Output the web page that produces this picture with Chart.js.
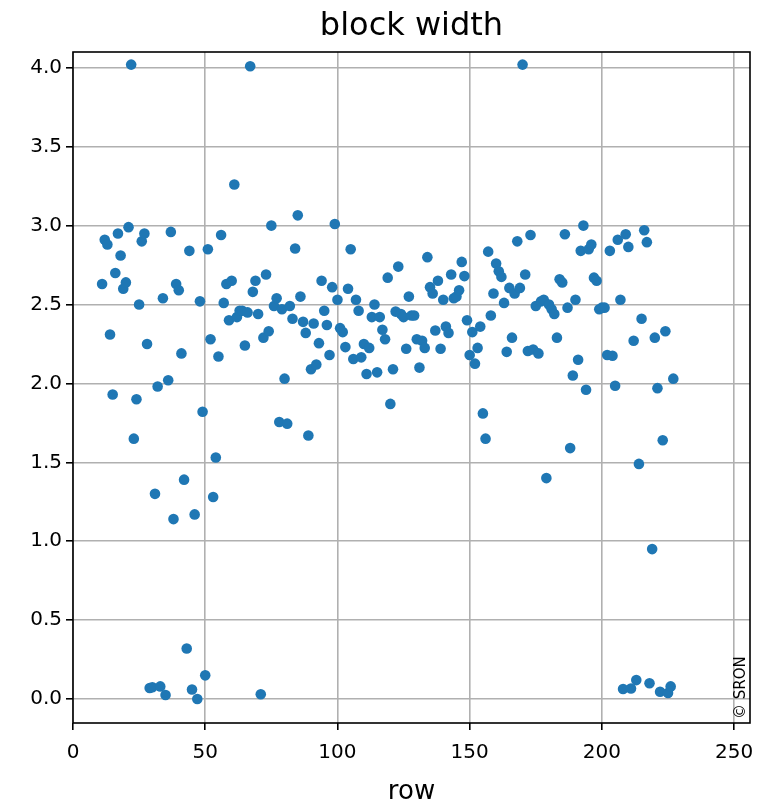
<!DOCTYPE html>
<html>
<head>
<meta charset="utf-8">
<script src="https://cdn.jsdelivr.net/npm/chart.js@4.4.1/dist/chart.umd.min.js"></script>
<style>
  body { margin: 0; background: #fff; }
  #wrap { width: 762px; height: 805px; }
</style>
</head>
<body>
<div id="wrap"><canvas id="grafico" width="762" height="805"></canvas></div>
<script>
// Dados: uma largura de bloco por linha (row 11..227)
const rows = [
  11, 12, 13, 14, 15, 16, 17, 18, 19, 20, 21, 22, 23, 24, 25, 26, 27, 28, 29, 30,
  31, 32, 33, 34, 35, 36, 37, 38, 39, 40, 41, 42, 43, 44, 45, 46, 47, 48, 49, 50,
  51, 52, 53, 54, 55, 56, 57, 58, 59, 60, 61, 62, 63, 64, 65, 66, 67, 68, 69, 70,
  71, 72, 73, 74, 75, 76, 77, 78, 79, 80, 81, 82, 83, 84, 85, 86, 87, 88, 89, 90,
  91, 92, 93, 94, 95, 96, 97, 98, 99, 100, 101, 102, 103, 104, 105, 106, 107, 108, 109, 110,
  111, 112, 113, 114, 115, 116, 117, 118, 119, 120, 121, 122, 123, 124, 125, 126, 127, 128, 129, 130,
  131, 132, 133, 134, 135, 136, 137, 138, 139, 140, 141, 142, 143, 144, 145, 146, 147, 148, 149, 150,
  151, 152, 153, 154, 155, 156, 157, 158, 159, 160, 161, 162, 163, 164, 165, 166, 167, 168, 169, 170,
  171, 172, 173, 174, 175, 176, 177, 178, 179, 180, 181, 182, 183, 184, 185, 186, 187, 188, 189, 190,
  191, 192, 193, 194, 195, 196, 197, 198, 199, 200, 201, 202, 203, 204, 205, 206, 207, 208, 209, 210,
  211, 212, 213, 214, 215, 216, 217, 218, 219, 220, 221, 222, 223, 224, 225, 226, 227
];
const blockWidth = [
  2.63, 2.91, 2.88, 2.31, 1.93, 2.70, 2.95, 2.81, 2.60, 2.64, 2.99, 4.02, 1.65, 1.90, 2.50, 2.90, 2.95, 2.25, 0.07, 0.075,
  1.30, 1.98, 0.08, 2.54, 0.025, 2.02, 2.96, 1.14, 2.63, 2.59, 2.19, 1.39, 0.32, 2.84, 0.06, 1.17, 0.00, 2.52, 1.82, 0.15,
  2.85, 2.28, 1.28, 1.53, 2.17, 2.94, 2.51, 2.63, 2.40, 2.65, 3.26, 2.42, 2.46, 2.46, 2.24, 2.45, 4.01, 2.58, 2.65, 2.44,
  0.03, 2.29, 2.69, 2.33, 3.00, 2.49, 2.54, 1.755, 2.47, 2.03, 1.745, 2.49, 2.41, 2.855, 3.065, 2.55, 2.39, 2.32, 1.67, 2.09,
  2.38, 2.12, 2.255, 2.65, 2.46, 2.37, 2.18, 2.61, 3.01, 2.53, 2.35, 2.325, 2.23, 2.60, 2.85, 2.155, 2.53, 2.46, 2.165, 2.25,
  2.06, 2.225, 2.42, 2.50, 2.07, 2.42, 2.34, 2.28, 2.67, 1.87, 2.09, 2.455, 2.74, 2.44, 2.42, 2.22, 2.55, 2.43, 2.43, 2.28,
  2.10, 2.27, 2.225, 2.80, 2.61, 2.57, 2.335, 2.65, 2.22, 2.53, 2.36, 2.32, 2.69, 2.54, 2.55, 2.59, 2.77, 2.68, 2.40, 2.18,
  2.325, 2.125, 2.225, 2.36, 1.81, 1.65, 2.835, 2.43, 2.57, 2.76, 2.71, 2.675, 2.51, 2.20, 2.605, 2.29, 2.57, 2.90, 2.605, 4.02,
  2.69, 2.205, 2.94, 2.215, 2.49, 2.19, 2.52, 2.53, 1.40, 2.50, 2.47, 2.44, 2.29, 2.66, 2.64, 2.945, 2.48, 1.59, 2.05, 2.53,
  2.15, 2.84, 3.00, 1.96, 2.85, 2.88, 2.67, 2.65, 2.47, 2.48, 2.48, 2.18, 2.84, 2.175, 1.985, 2.91, 2.53, 0.063, 2.945, 2.865,
  0.067, 2.27, 0.12, 1.49, 2.41, 2.97, 2.895, 0.10, 0.95, 2.29, 1.97, 0.046, 1.64, 2.33, 0.038, 0.08, 2.03
];
const xTicks = [0, 50, 100, 150, 200, 250];
const yTicks = [0.0, 0.5, 1.0, 1.5, 2.0, 2.5, 3.0, 3.5, 4.0];

const fonte = 'DejaVu Sans';
const corGrade = '#b0b0b0';

// Título centrado na área do gráfico, moldura preta e a marca © SRON
const molduraPlugin = {
  id: 'moldura',
  afterDatasetsDraw(chart) {
    const { ctx, chartArea: a } = chart;
    ctx.save();
    ctx.strokeStyle = '#000';
    ctx.lineWidth = 1.6;
    ctx.strokeRect(a.left, a.top, a.right - a.left, a.bottom - a.top);

    ctx.fillStyle = '#000';
    ctx.font = '32px "' + fonte + '"';
    ctx.textAlign = 'center';
    ctx.textBaseline = 'middle';
    ctx.fillText('block width', (a.left + a.right) / 2, 27);

    ctx.translate(a.right - 9, a.bottom - 4);
    ctx.rotate(-Math.PI / 2);
    ctx.font = '15px "' + fonte + '"';
    ctx.textAlign = 'left';
    ctx.fillText('\u00a9 SRON', 0, 0);
    ctx.restore();
  }
};

new Chart(document.getElementById('grafico'), {
  type: 'scatter',
  data: {
    datasets: [{
      data: rows.map((r, i) => ({ x: r, y: blockWidth[i] })),
      backgroundColor: '#1f77b4',
      borderColor: '#1f77b4',
      borderWidth: 0,
      pointRadius: 5.3,
      pointHoverRadius: 5.3
    }]
  },
  options: {
    responsive: false,
    animation: false,
    layout: { padding: { left: 0, right: 12, top: 52, bottom: 0 } },
    plugins: {
      legend: { display: false },
      tooltip: { enabled: false },
      title: { display: false }
    },
    scales: {
      x: {
        type: 'linear',
        min: 0,
        max: 256,
        afterBuildTicks: (s) => { s.ticks = xTicks.map(v => ({ value: v })); },
        afterFit: (s) => { s.height = 82; s.paddingLeft = 0; s.paddingRight = 0; },
        ticks: {
          color: '#000',
          font: { family: fonte, size: 20 },
          padding: 11,
          maxRotation: 0,
          callback: (v) => String(v)
        },
        grid: { color: corGrade, lineWidth: 1.6, tickColor: '#000', tickLength: 7, tickWidth: 1.6 },
        border: { display: false },
        title: {
          display: true,
          text: 'row',
          color: '#000',
          font: { family: fonte, size: 26, lineHeight: 1.0 },
          padding: { top: 0, bottom: 0 }
        }
      },
      y: {
        min: -0.152,
        max: 4.1,
        afterBuildTicks: (s) => { s.ticks = yTicks.map(v => ({ value: v })); },
        afterFit: (s) => { s.width = 73; s.paddingTop = 0; s.paddingBottom = 0; },
        ticks: {
          color: '#000',
          font: { family: fonte, size: 20 },
          padding: 4,
          callback: (v) => v.toFixed(1)
        },
        grid: { color: corGrade, lineWidth: 1.6, tickColor: '#000', tickLength: 7, tickWidth: 1.6 },
        border: { display: false }
      }
    }
  },
  plugins: [molduraPlugin]
});
</script>
</body>
</html>
